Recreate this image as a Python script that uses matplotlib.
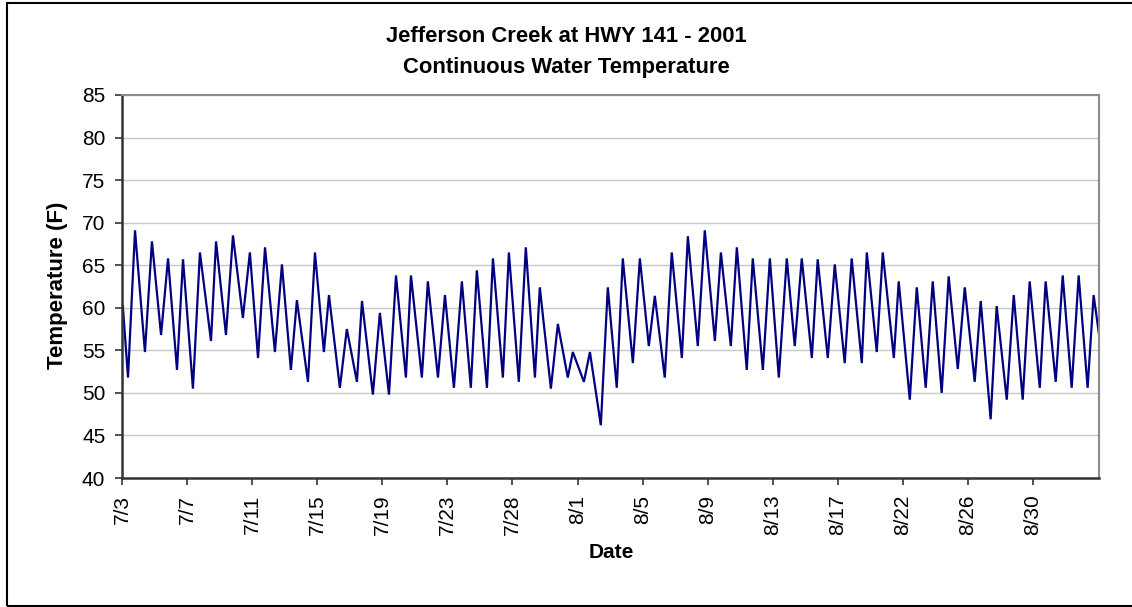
import matplotlib
matplotlib.use("Agg")
import matplotlib.pyplot as plt
from matplotlib.patches import Rectangle

plt.rcParams['font.family'] = ['Liberation Sans', 'DejaVu Sans']

# --- data: elapsed days since 7/3 00:00 (category position) and temperature (F) at daily peaks/troughs
day_offset = [0.05, 0.37, 0.80, 1.41, 1.84, 2.40, 2.83, 3.38, 3.75, 4.36, 4.79, 5.47, 5.78, 6.39,
              6.82, 7.43, 7.86, 8.36, 8.79, 9.40, 9.83, 10.38, 10.75, 11.43, 11.86, 12.41, 12.72,
              13.39, 13.82, 14.44, 14.75, 15.42, 15.85, 16.41, 16.84, 17.45, 17.76, 18.43, 18.80,
              19.42, 19.85, 20.40, 20.89, 21.44, 21.81, 22.43, 22.80, 23.41, 23.78, 24.39, 24.82,
              25.38, 25.68, 26.36, 26.79, 27.40, 27.71, 28.39, 28.76, 29.43, 29.86, 30.41, 30.78,
              31.40, 31.83, 32.38, 32.75, 33.36, 33.79, 34.41, 34.78, 35.39, 35.82, 36.44, 36.81,
              37.42, 37.79, 38.40, 38.77, 39.39, 39.82, 40.37, 40.86, 41.35, 41.78, 42.40, 42.76,
              43.38, 43.81, 44.42, 44.85, 45.47, 45.78, 46.39, 46.76, 47.44, 47.74, 48.42, 48.85,
              49.40, 49.83, 50.38, 50.81, 51.37, 51.80, 52.41, 52.78, 53.39, 53.76, 54.38, 54.81,
              55.36, 55.79, 56.41, 56.77, 57.39, 57.82, 58.37, 58.80, 59.35, 59.72, 60.05]
temperature_f = [60.2, 51.8, 69.1, 54.8, 67.8, 56.8, 65.8, 52.7, 65.7, 50.5, 66.5, 56.1, 67.8, 56.8,
                 68.5, 58.8, 66.5, 54.1, 67.1, 54.8, 65.1, 52.7, 60.9, 51.3, 66.5, 54.8, 61.5,
                 50.6, 57.5, 51.3, 60.8, 49.8, 59.4, 49.8, 63.8, 51.8, 63.8, 51.8, 63.1,
                 51.8, 61.5, 50.6, 63.1, 50.6, 64.4, 50.6, 65.8, 51.8, 66.5, 51.3, 67.1,
                 51.8, 62.4, 50.5, 58.1, 51.8, 54.8, 51.3, 54.8, 46.2, 62.4, 50.6, 65.8,
                 53.5, 65.8, 55.5, 61.4, 51.8, 66.5, 54.1, 68.4, 55.5, 69.1, 56.1, 66.5,
                 55.5, 67.1, 52.7, 65.8, 52.7, 65.8, 51.8, 65.8, 55.5, 65.8, 54.1, 65.7,
                 54.1, 65.1, 53.5, 65.8, 53.5, 66.5, 54.8, 66.5, 54.1, 63.1, 49.2, 62.4,
                 50.6, 63.1, 50.0, 63.7, 52.8, 62.4, 51.3, 60.8, 46.9, 60.2, 49.2, 61.5,
                 49.2, 63.1, 50.6, 63.1, 51.3, 63.8, 50.6, 63.8, 50.6, 61.5, 56.9]

tick_positions = [0, 4, 8, 12, 16, 20, 24, 28, 32, 36, 40, 44, 48, 52, 56]
tick_labels = ['7/3', '7/7', '7/11', '7/15', '7/19', '7/23', '7/28', '8/1', '8/5', '8/9',
               '8/13', '8/17', '8/22', '8/26', '8/30']
y_ticks = [40, 45, 50, 55, 60, 65, 70, 75, 80, 85]

W, H = 1132, 607
fig = plt.figure(figsize=(W / 100, H / 100), dpi=100)
fig.patch.set_facecolor('white')

left, right, top, bottom = 122, 1099, 95, 478
ax = fig.add_axes([left / W, 1 - bottom / H, (right - left) / W, (bottom - top) / H])

ax.plot(day_offset, temperature_f, color='#000080', linewidth=1.6, solid_joinstyle='miter')

ax.set_xlim(0, 60.05)
ax.set_ylim(40, 85)
ax.set_yticks(y_ticks)
ax.set_xticks(tick_positions)
ax.set_xticklabels(tick_labels, rotation=90)
ax.tick_params(axis='both', labelsize=15, colors='black')
ax.tick_params(axis='y', direction='out', length=5, width=1.2, pad=7, color='#333333')
ax.tick_params(axis='x', direction='out', length=5, width=1.2, pad=7, color='#333333')

ax.grid(axis='y', color='#c8c8c8', linewidth=1.0)
ax.set_axisbelow(True)

for side in ['left', 'bottom']:
    ax.spines[side].set_color('#333333')
    ax.spines[side].set_linewidth(1.8)
for side in ['right', 'top']:
    ax.spines[side].set_color('#8c8c8c')
    ax.spines[side].set_linewidth(1.5)

fig.text(58 / W, 1 - 285 / H, 'Temperature (F)', ha='center', va='center', rotation=90,
         fontsize=16, fontweight='bold')
fig.text(611 / W, 1 - 553 / H, 'Date', ha='center', va='center', fontsize=15, fontweight='bold')
fig.text(566 / W, 1 - 37 / H, 'Jefferson Creek at HWY 141 - 2001', ha='center', va='center',
         fontsize=15.8, fontweight='bold')
fig.text(566 / W, 1 - 67 / H, 'Continuous Water Temperature', ha='center', va='center',
         fontsize=15.8, fontweight='bold')

fig.patches.append(Rectangle((7 / W, 1 - 606 / H), 1.2, (606 - 3) / H, transform=fig.transFigure,
                             fill=False, edgecolor='black', linewidth=1.5))

fig.savefig('out.png', dpi=100)
